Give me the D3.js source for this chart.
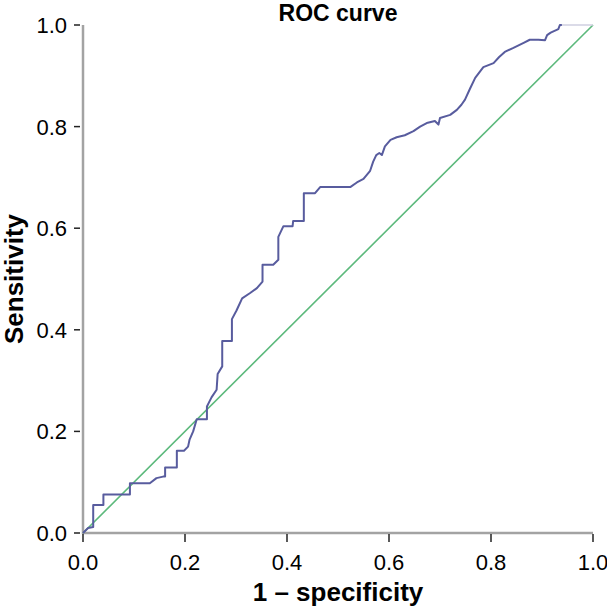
<!DOCTYPE html>
<html>
<head>
<meta charset="utf-8">
<script src="https://cdn.jsdelivr.net/npm/d3@7"></script>
<style>
  body { margin: 0; background: #fff; }
  text { font-family: "Liberation Sans", Arial, sans-serif; fill: #000; }
  .tick_label { font-size: 22px; }
  .axis_title { font-size: 26px; font-weight: bold; }
</style>
</head>
<body>
<div id="roc"></div>
<script>
// ROC points (1 - specificity, sensitivity)
var fpr = [0, 0.01, 0.02, 0.02, 0.04, 0.04, 0.092, 0.092, 0.131, 0.144, 0.157, 0.161, 0.161,
           0.184, 0.184, 0.198, 0.206, 0.209, 0.216, 0.223, 0.243, 0.243, 0.252, 0.262, 0.264,
           0.273, 0.273, 0.292, 0.292, 0.301, 0.312, 0.327, 0.341, 0.352, 0.352, 0.373, 0.383,
           0.383, 0.393, 0.411, 0.412, 0.433, 0.433, 0.455, 0.465, 0.524, 0.537, 0.550, 0.563,
           0.569, 0.575, 0.581, 0.586, 0.592, 0.603, 0.615, 0.631, 0.648, 0.661, 0.674, 0.690,
           0.697, 0.700, 0.720, 0.733, 0.742, 0.749, 0.759, 0.769, 0.785, 0.805, 0.816, 0.827,
           0.844, 0.864, 0.876, 0.893, 0.906, 0.910, 0.917, 0.932, 0.935, 0.939],
    tpr = [0, 0.01, 0.012, 0.055, 0.055, 0.076, 0.076, 0.098, 0.098, 0.108, 0.111, 0.111, 0.129,
           0.129, 0.162, 0.162, 0.170, 0.184, 0.200, 0.224, 0.224, 0.249, 0.267, 0.282, 0.313,
           0.328, 0.378, 0.378, 0.421, 0.438, 0.462, 0.472, 0.482, 0.495, 0.528, 0.528, 0.538,
           0.583, 0.604, 0.604, 0.614, 0.614, 0.669, 0.669, 0.681, 0.681, 0.690, 0.697, 0.713,
           0.731, 0.744, 0.748, 0.744, 0.761, 0.774, 0.779, 0.783, 0.791, 0.800, 0.807, 0.811,
           0.804, 0.817, 0.823, 0.833, 0.843, 0.853, 0.875, 0.896, 0.917, 0.925, 0.937, 0.947,
           0.955, 0.965, 0.971, 0.971, 0.970, 0.980, 0.985, 0.992, 1.0, 1.0],
    // closing piece of the curve, drawn in pale grey
    tail_fpr = [0.939, 1.0],
    tail_tpr = [1.0, 1.0],
    ref_line = [0, 1],
    ticks = [0, 0.2, 0.4, 0.6, 0.8, 1.0];

var w = 607,
    h = 608,
    plot_left = 83,
    plot_right = 593,
    plot_top = 25,
    plot_bottom = 533;

var x = d3.scaleLinear().domain([0, 1]).range([plot_left, plot_right]),
    y = d3.scaleLinear().domain([0, 1]).range([plot_bottom, plot_top]);

var chart = d3.select('#roc')
    .append('svg')
    .attr('width', w)
    .attr('height', h);

// Axis lines
chart.append('line')
    .attr('x1', plot_left).attr('x2', plot_left)
    .attr('y1', y(1)).attr('y2', plot_bottom + 1)
    .style('stroke', '#a3a3a3').style('stroke-width', 2.5);
chart.append('line')
    .attr('x1', plot_left - 1).attr('x2', x(1))
    .attr('y1', plot_bottom).attr('y2', plot_bottom)
    .style('stroke', '#a3a3a3').style('stroke-width', 2.5);

// Tick marks and labels
chart.selectAll('.ytick')
    .data(ticks)
  .enter().append('line')
    .attr('class', 'ytick')
    .attr('x1', plot_left - 9).attr('x2', plot_left - 3)
    .attr('y1', function(d){ return y(d); })
    .attr('y2', function(d){ return y(d); })
    .style('stroke', '#222').style('stroke-width', 1.5);

chart.selectAll('.ylab')
    .data(ticks)
  .enter().append('text')
    .attr('class', 'tick_label')
    .attr('x', plot_left - 16)
    .attr('y', function(d){ return y(d) + 8; })
    .attr('text-anchor', 'end')
    .text(function(d){ return d3.format('.1f')(d); });

chart.selectAll('.xtick')
    .data(ticks)
  .enter().append('line')
    .attr('class', 'xtick')
    .attr('x1', function(d){ return x(d); })
    .attr('x2', function(d){ return x(d); })
    .attr('y1', plot_bottom + 1).attr('y2', plot_bottom + 9)
    .style('stroke', '#222').style('stroke-width', 1.5);

chart.selectAll('.xlab')
    .data(ticks)
  .enter().append('text')
    .attr('class', 'tick_label')
    .attr('x', function(d){ return x(d); })
    .attr('y', 570)
    .attr('text-anchor', 'middle')
    .text(function(d){ return d3.format('.1f')(d); });

// Reference diagonal
chart.append('line')
    .attr('x1', x(ref_line[0])).attr('y1', y(ref_line[0]))
    .attr('x2', x(ref_line[1])).attr('y2', y(ref_line[1]))
    .style('stroke', '#5cb97c').style('stroke-width', 1.6);

var line = d3.line()
    .x(function(d){ return x(d[0]); })
    .y(function(d){ return y(d[1]); });

chart.append('path')
    .datum(d3.zip(tail_fpr, tail_tpr))
    .attr('d', line)
    .style('fill', 'none')
    .style('stroke', '#cfcfe0')
    .style('stroke-width', 1.5);

chart.append('path')
    .datum(d3.zip(fpr, tpr))
    .attr('d', line)
    .style('fill', 'none')
    .style('stroke', '#585c9e')
    .style('stroke-width', 2)
    .style('stroke-linejoin', 'round');

// Titles
chart.append('text')
    .attr('class', 'axis_title')
    .attr('x', (plot_left + plot_right) / 2)
    .attr('y', 21)
    .attr('text-anchor', 'middle')
    .style('font-size', '23px')
    .text('ROC curve');

chart.append('text')
    .attr('class', 'axis_title')
    .attr('x', (plot_left + plot_right) / 2)
    .attr('y', 601)
    .attr('text-anchor', 'middle')
    .text('1 \u2013 specificity');

chart.append('text')
    .attr('class', 'axis_title')
    .attr('transform', 'translate(23,' + ((plot_top + plot_bottom) / 2) + ') rotate(-90)')
    .attr('text-anchor', 'middle')
    .text('Sensitivity');
</script>
</body>
</html>
